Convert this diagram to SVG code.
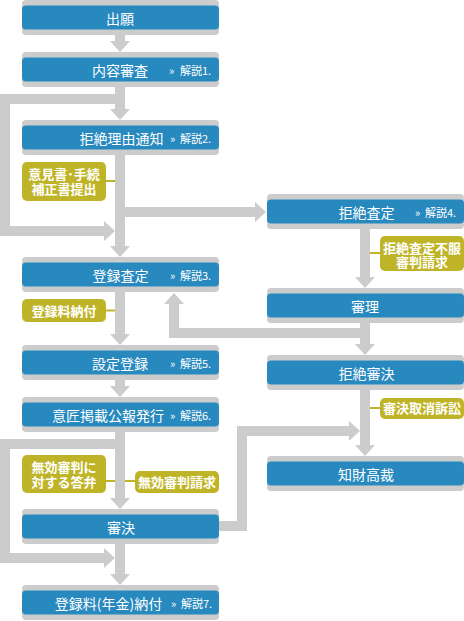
<svg xmlns="http://www.w3.org/2000/svg" width="464" height="621" viewBox="0 0 464 621">
<defs>
<style>
.sh{fill:#cccccc}
.bl{fill:#2889bf}
.ol{fill:#bfb428}
.t{font-family:"Noto Sans CJK JP","Noto Sans",sans-serif;font-size:14px;fill:#ffffff;text-anchor:middle}
.s{font-family:"Noto Sans CJK JP","Noto Sans",sans-serif;font-size:11px;fill:#ffffff}
.o{font-family:"Noto Sans CJK JP","Noto Sans",sans-serif;font-size:13px;font-weight:bold;fill:#ffffff;text-anchor:middle}
.c{fill:none;stroke:#cccccc;stroke-width:10}
.oc{fill:none;stroke:#bfb428;stroke-width:2}
</style>
<marker id="ah" viewBox="0 -10 11 20" refX="1" refY="0" markerWidth="11" markerHeight="20" markerUnits="userSpaceOnUse" orient="auto">
<path d="M0,-10 L11,0 L0,10z" fill="#cccccc"/>
</marker>
</defs>
<rect width="464" height="621" fill="#ffffff"/>
<g id="connectors">
<path class="c" marker-end="url(#ah)" d="M120,34 V42"/>
<path class="c" marker-end="url(#ah)" d="M120,86 V110"/>
<path class="c" marker-end="url(#ah)" d="M120,154 V247"/>
<path class="c" marker-end="url(#ah)" d="M120,291 V335"/>
<path class="c" marker-end="url(#ah)" d="M120,379 V387"/>
<path class="c" marker-end="url(#ah)" d="M120,431 V499"/>
<path class="c" marker-end="url(#ah)" d="M120,543 V575"/>
<path class="c" marker-end="url(#ah)" d="M120,99 H5 V231 H105"/>
<path class="c" marker-end="url(#ah)" d="M120,444 H5 V558 H105"/>
<path class="c" marker-end="url(#ah)" d="M120,212 H256"/>
<path class="c" marker-end="url(#ah)" d="M365,228 V278"/>
<path class="c" marker-end="url(#ah)" d="M365,322 V345"/>
<path class="c" marker-end="url(#ah)" d="M365,389 V446"/>
<path class="c" marker-end="url(#ah)" d="M365,333 H174 V303"/>
<path class="c" marker-end="url(#ah)" d="M214,526 H242 V431 H350"/>
<path class="oc" d="M106,181 H115"/>
<path class="oc" d="M106,310.5 H115"/>
<path class="oc" d="M106,481 H115 M125,481 H135"/>
<path class="oc" d="M370,253 H380"/>
<path class="oc" d="M370,408 H380"/>
</g>
<g id="n-shutsugan">
<rect class="sh" x="22" y="0" width="197" height="35" rx="4"/>
<rect class="bl" x="22" y="5.5" width="197" height="24" rx="4"/>
<text class="t" x="120" y="23.5">出願</text>
</g>
<g id="n-naiyo">
<rect class="sh" x="22" y="52" width="197" height="35" rx="4"/>
<rect class="bl" x="22" y="57.5" width="197" height="24" rx="4"/>
<text class="t" x="120" y="75.5">内容審査</text>
<text class="s" y="74.5"><tspan x="169">»</tspan><tspan x="180">解説1.</tspan></text>
</g>
<g id="n-kyozetsuriyu">
<rect class="sh" x="22" y="120" width="197" height="35" rx="4"/>
<rect class="bl" x="22" y="125.5" width="197" height="24" rx="4"/>
<text class="t" x="121.5" y="143.5">拒絶理由通知</text>
<text class="s" y="142.5"><tspan x="170">»</tspan><tspan x="180">解説2.</tspan></text>
</g>
<g id="n-ikensho">
<rect class="ol" x="22" y="162" width="84" height="39" rx="5"/>
<text class="o" x="64" y="179">意見書･手続</text>
<text class="o" x="64" y="193.5">補正書提出</text>
</g>
<g id="n-torokusatei">
<rect class="sh" x="22" y="257" width="197" height="35" rx="4"/>
<rect class="bl" x="22" y="262.5" width="197" height="24" rx="4"/>
<text class="t" x="120.5" y="280.5">登録査定</text>
<text class="s" y="279.5"><tspan x="170">»</tspan><tspan x="180">解説3.</tspan></text>
</g>
<g id="n-torokuryo">
<rect class="ol" x="22" y="299" width="84" height="23" rx="5"/>
<text class="o" x="64" y="315.5">登録料納付</text>
</g>
<g id="n-setteitoroku">
<rect class="sh" x="22" y="345" width="197" height="35" rx="4"/>
<rect class="bl" x="22" y="350.5" width="197" height="24" rx="4"/>
<text class="t" x="120" y="368.5">設定登録</text>
<text class="s" y="367.5"><tspan x="170">»</tspan><tspan x="180">解説5.</tspan></text>
</g>
<g id="n-koho">
<rect class="sh" x="22" y="397" width="197" height="35" rx="4"/>
<rect class="bl" x="22" y="402.5" width="197" height="24" rx="4"/>
<text class="t" x="108" y="420.5">意匠掲載公報発行</text>
<text class="s" y="419.5"><tspan x="170">»</tspan><tspan x="180">解説6.</tspan></text>
</g>
<g id="n-toben">
<rect class="ol" x="22" y="455" width="84" height="38" rx="5"/>
<text class="o" x="64" y="472">無効審判に</text>
<text class="o" x="64" y="486.5">対する答弁</text>
</g>
<g id="n-mukoseikyu">
<rect class="ol" x="135" y="471" width="84" height="22" rx="5"/>
<text class="o" x="177" y="486.5">無効審判請求</text>
</g>
<g id="n-shinketsu">
<rect class="sh" x="22" y="509" width="197" height="35" rx="4"/>
<rect class="bl" x="22" y="514.5" width="197" height="24" rx="4"/>
<text class="t" x="121" y="532.5">審決</text>
</g>
<g id="n-nenkin">
<rect class="sh" x="22" y="585" width="197" height="35" rx="4"/>
<rect class="bl" x="22" y="590.5" width="197" height="24" rx="4"/>
<text class="t" x="108.5" y="608.5">登録料(年金)納付</text>
<text class="s" y="607.5"><tspan x="171">»</tspan><tspan x="181">解説7.</tspan></text>
</g>
<g id="n-kyozetsusatei">
<rect class="sh" x="267" y="194" width="197" height="35" rx="4"/>
<rect class="bl" x="267" y="199.5" width="197" height="24" rx="4"/>
<text class="t" x="366.5" y="217.5">拒絶査定</text>
<text class="s" y="216.5"><tspan x="415">»</tspan><tspan x="425">解説4.</tspan></text>
</g>
<g id="n-fufuku">
<rect class="ol" x="380" y="236" width="84" height="35" rx="5"/>
<text class="o" x="422" y="253">拒絶査定不服</text>
<text class="o" x="422" y="266.5">審判請求</text>
</g>
<g id="n-shinri">
<rect class="sh" x="267" y="288" width="197" height="35" rx="4"/>
<rect class="bl" x="267" y="293.5" width="197" height="24" rx="4"/>
<text class="t" x="365" y="311.5">審理</text>
</g>
<g id="n-kyozetsushinketsu">
<rect class="sh" x="267" y="355" width="197" height="35" rx="4"/>
<rect class="bl" x="267" y="360.5" width="197" height="24" rx="4"/>
<text class="t" x="366.5" y="378.5">拒絶審決</text>
</g>
<g id="n-torikeshi">
<rect class="ol" x="380" y="398" width="84" height="21" rx="5"/>
<text class="o" x="422" y="413">審決取消訴訟</text>
</g>
<g id="n-chizai">
<rect class="sh" x="267" y="456" width="197" height="35" rx="4"/>
<rect class="bl" x="267" y="461.5" width="197" height="24" rx="4"/>
<text class="t" x="366" y="479.5">知財高裁</text>
</g>
</svg>
